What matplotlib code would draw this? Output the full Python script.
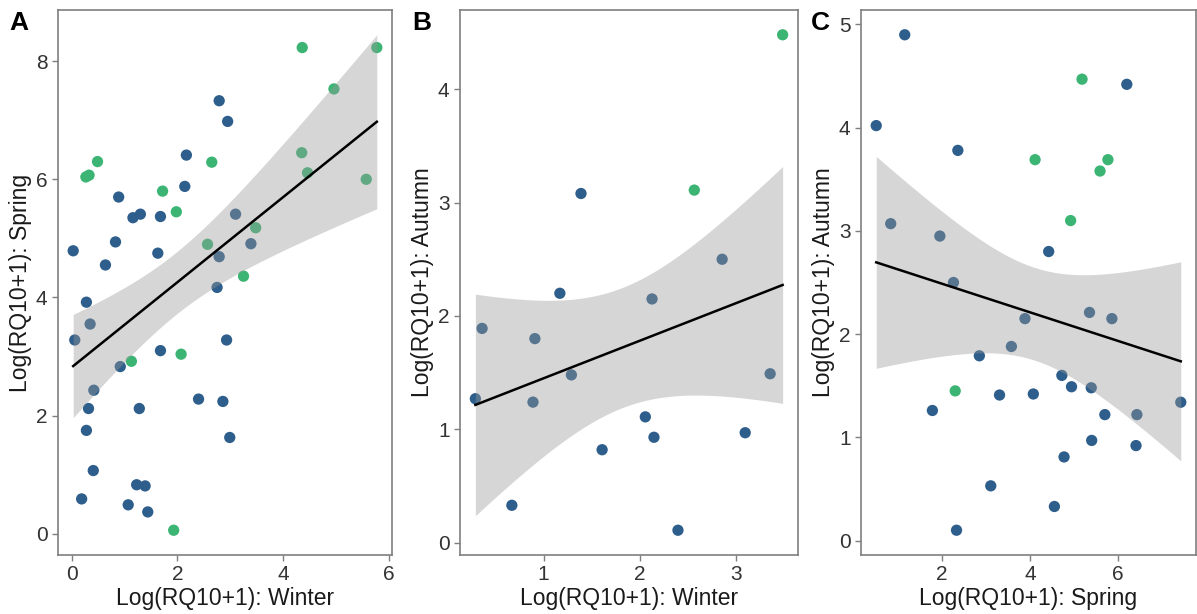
import numpy as np
import matplotlib.pyplot as plt
from matplotlib.ticker import MultipleLocator

# panel A: winter vs spring
a_x = [4.36, 5.77, 4.96, 2.79, 2.95, 0.49, 0.27, 0.33, 2.17, 2.65, 4.35, 4.46, 5.57,
       0.89, 1.72, 2.14, 1.98, 1.16, 1.30, 1.68, 3.10, 3.48, 0.03, 0.83, 2.57, 3.39,
       1.63, 0.64, 2.79, 3.25, 2.75, 0.28, 0.35, 0.06, 2.93, 1.68, 2.07, 1.13, 0.92,
       0.42, 2.40, 2.86, 0.32, 1.28, 0.28, 2.99, 0.41, 1.23, 1.39, 0.19, 1.07, 1.44, 1.93]
a_y = [8.23, 8.23, 7.53, 7.33, 6.98, 6.30, 6.04, 6.07, 6.41, 6.29, 6.45, 6.11, 6.00,
       5.70, 5.80, 5.88, 5.45, 5.35, 5.41, 5.37, 5.41, 5.18, 4.79, 4.94, 4.90, 4.91,
       4.75, 4.55, 4.69, 4.36, 4.17, 3.92, 3.55, 3.28, 3.28, 3.10, 3.04, 2.92, 2.83,
       2.43, 2.28, 2.24, 2.12, 2.12, 1.75, 1.63, 1.07, 0.83, 0.81, 0.59, 0.49, 0.37, 0.06]
a_grp = [1, 1, 1, 0, 0, 1, 1, 1, 0, 1, 1, 1, 1,
         0, 1, 0, 1, 0, 0, 0, 0, 1, 0, 0, 1, 0,
         0, 0, 0, 1, 0, 0, 0, 0, 0, 0, 1, 1, 0,
         0, 0, 0, 0, 0, 0, 0, 0, 0, 0, 0, 0, 0, 1]

# panel B: winter vs autumn
b_x = [3.49, 1.39, 2.57, 2.86, 1.17, 2.13, 0.36, 0.91, 1.29, 3.36, 0.29, 0.89,
       2.06, 2.15, 3.10, 1.61, 0.67, 2.40]
b_y = [4.48, 3.08, 3.11, 2.50, 2.20, 2.15, 1.89, 1.80, 1.48, 1.49, 1.27, 1.24,
       1.11, 0.93, 0.97, 0.82, 0.33, 0.11]
b_grp = [1, 0, 1, 0, 0, 0, 0, 0, 0, 0, 0, 0, 0, 0, 0, 0, 0, 0]

# panel C: spring vs autumn
c_x = [1.15, 5.19, 6.21, 0.50, 2.36, 4.12, 5.78, 5.60, 4.93, 0.83, 1.95, 4.43,
       2.26, 5.36, 3.89, 5.87, 3.58, 2.85, 4.73, 4.95, 5.40, 2.30, 3.31, 4.08,
       7.44, 1.78, 5.71, 6.44, 5.41, 6.42, 4.78, 3.11, 4.56, 2.33]
c_y = [4.90, 4.47, 4.42, 4.02, 3.78, 3.69, 3.69, 3.58, 3.10, 3.07, 2.95, 2.80,
       2.50, 2.21, 2.15, 2.15, 1.88, 1.79, 1.60, 1.49, 1.48, 1.45, 1.41, 1.42,
       1.34, 1.26, 1.22, 1.22, 0.97, 0.92, 0.81, 0.53, 0.33, 0.10]
c_grp = [0, 1, 0, 0, 0, 1, 1, 1, 1, 0, 0, 0,
         0, 0, 0, 0, 0, 0, 0, 0, 0, 1, 0, 0,
         0, 0, 0, 0, 0, 0, 0, 0, 0, 0]

colors = ["#2e5e8b", "#3cb574"]


def t975(df):
    # approximate 97.5% quantile of Student t
    z = 1.959964
    return (z + (z**3 + z) / (4 * df) + (5 * z**5 + 16 * z**3 + 3 * z) / (96 * df**2)
            + (3 * z**7 + 19 * z**5 + 17 * z**3 - 15 * z) / (384 * df**3))


def panel(ax, x, y, grp, xlab, ylab, xstep, ystep):
    x = np.array(x)
    y = np.array(y)
    grp = np.array(grp)
    ax.scatter(x, y, s=66, c=[colors[g] for g in grp], edgecolors="none", zorder=2)
    # linear fit with 95% confidence band (like geom_smooth(method = "lm"))
    n = len(x)
    b1, b0 = np.polyfit(x, y, 1)
    resid = y - (b0 + b1 * x)
    s = np.sqrt(np.sum(resid**2) / (n - 2))
    xs = np.linspace(x.min(), x.max(), 80)
    fit = b0 + b1 * xs
    se = s * np.sqrt(1 / n + (xs - x.mean())**2 / np.sum((x - x.mean())**2))
    tq = t975(n - 2)
    ax.fill_between(xs, fit - tq * se, fit + tq * se, color="#999999", alpha=0.4,
                    linewidth=0, zorder=3)
    ax.plot(xs, fit, color="black", lw=1.8, zorder=4)
    ax.xaxis.set_major_locator(MultipleLocator(xstep))
    ax.yaxis.set_major_locator(MultipleLocator(ystep))
    ax.tick_params(labelsize=15, colors="#7f7f7f", labelcolor="#333333", length=4, width=1)
    for sp in ax.spines.values():
        sp.set_color("#7f7f7f")
        sp.set_linewidth(1.2)
    ax.set_xlabel(xlab, fontsize=16.5, color="#1a1a1a", labelpad=2)
    ax.set_ylabel(ylab, fontsize=16.5, color="#1a1a1a", labelpad=3)


plt.rcParams["font.family"] = ["Liberation Sans", "DejaVu Sans"]
fig = plt.figure(figsize=(11.97, 6.14), dpi=100)
W, H = 1197, 614


def box(l, r, t, b):
    return [l / W, (H - b) / H, (r - l) / W, (b - t) / H]


ax1 = fig.add_axes(box(58, 392, 10, 555))
ax2 = fig.add_axes(box(460, 798, 10, 555))
ax3 = fig.add_axes(box(861, 1196, 10, 555))

panel(ax1, a_x, a_y, a_grp, "Log(RQ10+1): Winter", "Log(RQ10+1): Spring", 2, 2)
panel(ax2, b_x, b_y, b_grp, "Log(RQ10+1): Winter", "Log(RQ10+1): Autumn", 1, 1)
panel(ax3, c_x, c_y, c_grp, "Log(RQ10+1): Spring", "Log(RQ10+1): Autumn", 2, 1)

for lx, letter in [(9, "A"), (412, "B"), (811, "C")]:
    fig.text(lx / W, 1 - 11 / H, letter, fontsize=19, fontweight="bold", va="top", ha="left")

fig.savefig("out.png", dpi=100)
